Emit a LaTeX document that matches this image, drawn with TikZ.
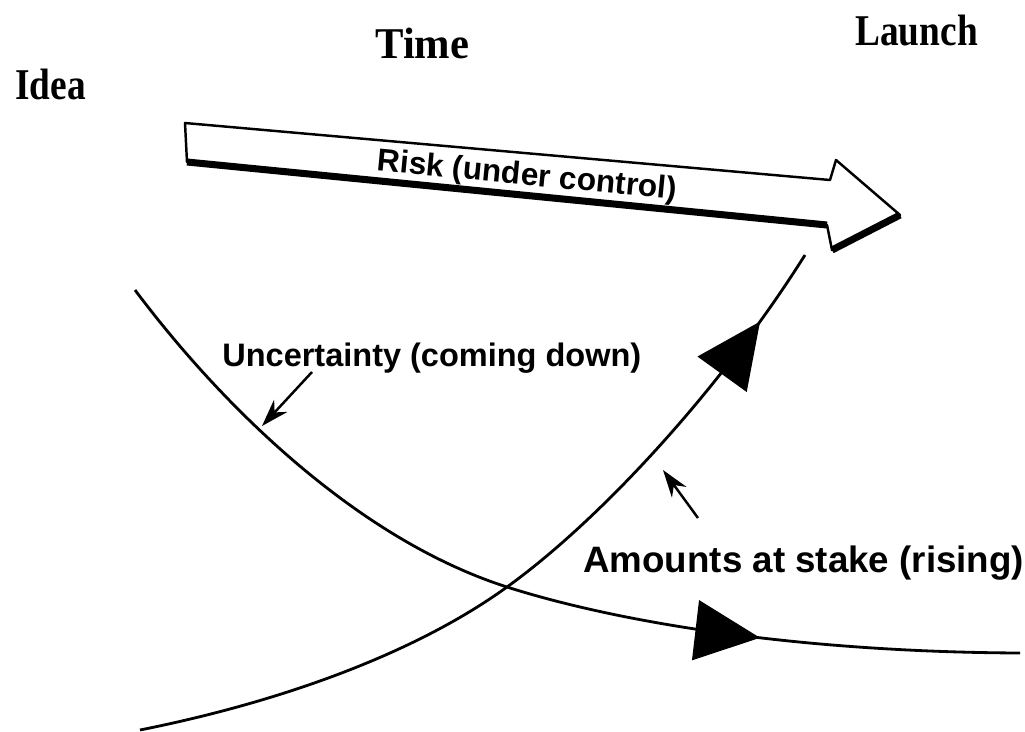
\documentclass[tikz,border=0pt]{standalone}
\usepackage{fontspec}
\setmainfont{Liberation Serif}
\setsansfont{Liberation Sans}
\usetikzlibrary{arrows.meta, decorations.markings}

\begin{document}
\begin{tikzpicture}[x=0.02cm, y=-0.02cm,
  curve/.style={line width=1.6pt},
  pointer/.style={line width=1.4pt, -{Stealth[length=5.5mm, width=3.6mm]}},
  midtip/.style={postaction={decorate}, decoration={markings,
    mark=at position #1 with {\arrow{Triangle[length=1.3cm, width=1.2cm]}}}},
  label/.style={font=\sffamily\bfseries\fontsize{18.5}{22}\selectfont, inner sep=0pt},
  stage/.style={font=\bfseries\fontsize{25}{30}\selectfont, inner sep=0pt, anchor=base west}]
  \useasboundingbox (0,0) rectangle (1025,731);

  % Stages
  \node[stage] (idea) at (15,99) {\scalebox{0.85}[1]{Idea}};
  \node[stage] (time) at (375,58) {\scalebox{0.97}[1]{Time}};
  \node[stage] (launch) at (855,45) {\scalebox{0.85}[1]{Launch}};

  % Risk arrow
  \coordinate (r1) at (185,123);
  \coordinate (r2) at (830,180);
  \coordinate (r3) at (836,160);
  \coordinate (r4) at (900,215);
  \coordinate (r5) at (832,250);
  \coordinate (r6) at (827,225);
  \coordinate (r7) at (187,162);
  \draw[line width=1.4pt, line join=round] (r1) -- (r2) -- (r3) -- (r4) -- (r5) -- (r6) -- (r7) -- cycle;
  \draw[line width=4pt] (r7) -- (r6);
  \draw[line width=4pt] (r5) -- (r4);
  \node[label, font=\sffamily\bfseries\fontsize{18}{22}\selectfont, rotate=-5.5] (risk) at (527,177) {Risk (under control)};

  % Uncertainty curve
  \draw[curve, midtip=0.74] (135,290) .. controls (225,410) and (360,540) .. (507,587)
    .. controls (620,623) and (800,652) .. (1020,653);
  % Amounts curve
  \draw[curve, midtip=0.905] (140,730) .. controls (290,700) and (420,650) .. (507,587)
    .. controls (600,520) and (720,390) .. (805,255);

  % Labels with pointers
  \node[label, anchor=base west] (unc) at (222,366) {Uncertainty (coming down)};
  \node[label, font=\sffamily\bfseries\fontsize{20.9}{24}\selectfont, anchor=base west] (amt) at (583,572) {Amounts at stake (rising)};
  \coordinate (uncTail) at (312,372);
  \coordinate (uncTip) at (262,426);
  \coordinate (amtTail) at (698,518);
  \coordinate (amtTip) at (663,470);
  \draw[pointer] (uncTail) -- (uncTip);
  \draw[pointer] (amtTail) -- (amtTip);
\end{tikzpicture}
\end{document}
